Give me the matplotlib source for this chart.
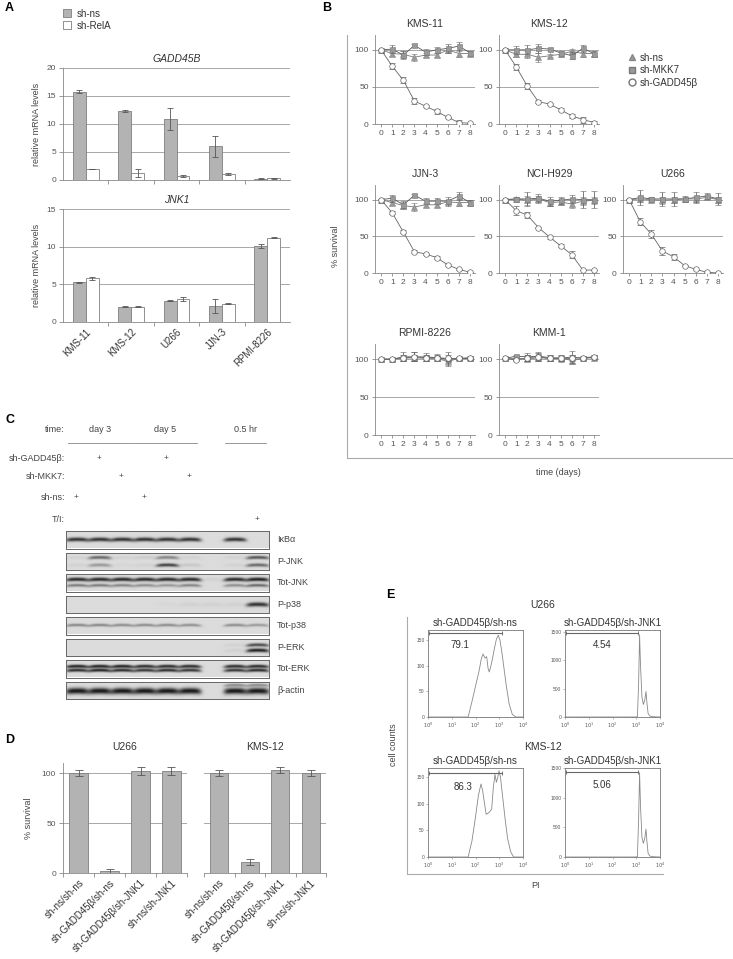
import numpy as np
import matplotlib
matplotlib.use('Agg')
import matplotlib.pyplot as plt
from matplotlib.patches import Patch
from matplotlib.lines import Line2D

plt.rcParams['font.family'] = ['Liberation Sans', 'DejaVu Sans']
plt.rcParams['axes.edgecolor'] = '#888888'
plt.rcParams['xtick.color'] = '#888888'
plt.rcParams['ytick.color'] = '#888888'
plt.rcParams['xtick.labelcolor'] = '#555555'
plt.rcParams['ytick.labelcolor'] = '#555555'

# ---------------- data ----------------
# panel A
lines_a = ['KMS-11', 'KMS-12', 'U266', 'JJN-3', 'RPMI-8226']
gadd_ns = [15.8, 12.3, 10.9, 6.0, 0.25]
gadd_ns_err = [0.2, 0.2, 2.0, 1.9, 0.1]
gadd_rela = [2.0, 1.2, 0.7, 1.1, 0.3]
gadd_rela_err = [0.05, 0.7, 0.15, 0.2, 0.05]
jnk_ns = [5.25, 2.05, 2.85, 2.1, 10.1]
jnk_ns_err = [0.05, 0.03, 0.05, 0.9, 0.3]
jnk_rela = [5.8, 2.05, 3.05, 2.45, 11.2]
jnk_rela_err = [0.2, 0.03, 0.25, 0.02, 0.1]

# panel B
days = [0, 1, 2, 3, 4, 5, 6, 7, 8]
b_lines = ['KMS-11', 'KMS-12', 'JJN-3', 'NCI-H929', 'U266', 'RPMI-8226', 'KMM-1']
b_ns = {
    'KMS-11': [100, 95, 94, 90, 93, 93, 100, 95, 95],
    'KMS-12': [100, 94, 94, 90, 92, 94, 98, 95, 95],
    'JJN-3': [100, 96, 92, 90, 93, 93, 97, 96, 96],
    'NCI-H929': [100, 101, 99, 101, 96, 97, 94, 98, 99],
    'U266': [100, 101, 100, 99, 100, 101, 101, 103, 100],
    'RPMI-8226': [100, 100, 101, 102, 101, 101, 97, 101, 101],
    'KMM-1': [101, 101, 100, 102, 101, 102, 98, 101, 102],
}
b_ns_err = {
    'KMS-11': [1, 3, 5, 5, 3, 3, 3, 5, 3],
    'KMS-12': [1, 3, 5, 6, 2, 3, 3, 5, 3],
    'JJN-3': [1, 3, 5, 6, 3, 3, 3, 5, 3],
    'NCI-H929': [1, 2, 6, 4, 4, 4, 6, 5, 5],
    'U266': [1, 4, 2, 5, 4, 3, 4, 3, 4],
    'RPMI-8226': [1, 1, 3, 4, 3, 3, 5, 2, 2],
    'KMM-1': [1, 2, 3, 4, 3, 3, 5, 2, 2],
}
b_mkk = {
    'KMS-11': [100, 101, 93, 106, 97, 100, 102, 105, 96],
    'KMS-12': [100, 100, 100, 102, 101, 96, 92, 102, 95],
    'JJN-3': [100, 102, 93, 106, 98, 98, 98, 105, 96],
    'NCI-H929': [100, 101, 101, 102, 98, 99, 101, 100, 100],
    'U266': [100, 103, 101, 101, 101, 101, 103, 105, 101],
    'RPMI-8226': [100, 100, 103, 103, 103, 102, 100, 101, 102],
    'KMM-1': [101, 104, 103, 104, 102, 101, 103, 101, 103],
}
b_mkk_err = {
    'KMS-11': [1, 5, 5, 2, 4, 4, 6, 6, 3],
    'KMS-12': [1, 5, 6, 6, 2, 3, 5, 5, 3],
    'JJN-3': [1, 5, 5, 2, 4, 4, 6, 5, 3],
    'NCI-H929': [1, 2, 10, 6, 6, 5, 5, 12, 12],
    'U266': [1, 10, 2, 9, 10, 4, 8, 4, 8],
    'RPMI-8226': [1, 1, 6, 6, 5, 5, 9, 2, 2],
    'KMM-1': [1, 2, 5, 5, 4, 5, 8, 2, 2],
}
b_gadd = {
    'KMS-11': [100, 78, 59, 31, 24, 17, 9, 2, 1],
    'KMS-12': [100, 77, 51, 30, 27, 19, 11, 6, 2],
    'JJN-3': [100, 82, 56, 29, 26, 21, 11, 5, 1],
    'NCI-H929': [100, 85, 79, 62, 49, 37, 25, 4, 4],
    'U266': [100, 70, 53, 30, 22, 10, 5, 1, 0],
    'RPMI-8226': [100, 100, 102, 103, 102, 102, 101, 101, 101],
    'KMM-1': [101, 99, 102, 103, 101, 101, 101, 102, 103],
}
b_gadd_err = {
    'KMS-11': [0, 4, 4, 4, 1, 3, 1, 3, 1],
    'KMS-12': [0, 4, 4, 2, 1, 2, 3, 4, 2],
    'JJN-3': [0, 2, 2, 2, 1, 2, 1, 1, 0],
    'NCI-H929': [0, 6, 4, 1, 2, 2, 5, 0, 0],
    'U266': [0, 5, 5, 5, 4, 1, 1, 1, 0],
    'RPMI-8226': [0, 0, 4, 6, 4, 3, 4, 2, 2],
    'KMM-1': [0, 0, 4, 5, 4, 3, 4, 2, 2],
}

# panel C (western blot band intensities per lane, 9 lanes, lane 7 empty)
blot_labels = ['I\u03baB\u03b1', 'P-JNK', 'Tot-JNK', 'P-p38', 'Tot-p38', 'P-ERK', 'Tot-ERK', '\u03b2-actin']
blot_bands = {
    'I\u03baB\u03b1': [(0.52, 0.075, [0.85, 0.85, 0.85, 0.85, 0.85, 0.85, 0, 0.85, 0])],
    'P-JNK': [(0.30, 0.06, [0.05, 0.6, 0.05, 0.08, 0.45, 0.05, 0, 0.05, 0.7]),
              (0.72, 0.06, [0.05, 0.35, 0.03, 0.05, 0.8, 0.1, 0, 0.05, 0.6])],
    'Tot-JNK': [(0.35, 0.07, [0.9, 0.9, 0.9, 0.9, 0.9, 0.9, 0.05, 0.9, 0.95]),
                (0.68, 0.055, [0.5, 0.5, 0.45, 0.4, 0.35, 0.45, 0, 0.4, 0.6])],
    'P-p38': [(0.52, 0.08, [0, 0, 0, 0, 0.02, 0.05, 0.05, 0.05, 0.85])],
    'Tot-p38': [(0.50, 0.05, [0.45, 0.45, 0.42, 0.42, 0.42, 0.4, 0, 0.42, 0.35])],
    'P-ERK': [(0.38, 0.06, [0, 0, 0, 0, 0, 0, 0, 0.05, 0.75]),
              (0.68, 0.07, [0, 0, 0, 0, 0, 0, 0, 0.05, 0.95])],
    'Tot-ERK': [(0.40, 0.06, [0.95, 0.95, 0.95, 0.9, 0.9, 0.9, 0, 0.9, 0.9]),
                (0.62, 0.06, [0.9, 0.95, 0.9, 0.85, 0.9, 0.85, 0, 0.85, 0.9])],
    '\u03b2-actin': [(0.22, 0.05, [0, 0, 0, 0, 0, 0, 0, 0.4, 0.4]),
                     (0.55, 0.12, [0.95, 0.95, 0.95, 0.95, 0.95, 0.95, 0, 0.95, 0.95])],
}
lane_plus = {
    'sh-GADD45\u03b2:': [1, 4],
    'sh-MKK7:': [2, 5],
    'sh-ns:': [0, 3],
    'T/I:': [8],
}

# panel D
d_groups = ['sh-ns/sh-ns', 'sh-GADD45\u03b2/sh-ns', 'sh-GADD45\u03b2/sh-JNK1', 'sh-ns/sh-JNK1']
d_u266 = [100, 2, 102, 102]
d_u266_err = [3, 2.5, 4, 4]
d_kms12 = [100, 11, 103, 100]
d_kms12_err = [3, 3, 3, 3]

# panel E (log10 PI, counts)
e_u266_ns_x = [0, 1.5, 1.69, 1.85, 2.0, 2.15, 2.25, 2.32, 2.4, 2.47, 2.53, 2.58, 2.65, 2.72, 2.8, 2.88,
               2.96, 3.03, 3.1, 3.2, 3.3, 3.42, 3.55, 3.7, 4.0]
e_u266_ns_y = [0, 0, 0, 30, 60, 90, 115, 123, 115, 118, 95, 88, 100, 115, 135, 152, 160, 150, 130, 95,
               60, 25, 5, 0, 0]
e_u266_jnk_x = [0, 2.95, 3.05, 3.1, 3.14, 3.18, 3.24, 3.3, 3.36, 3.41, 3.45, 3.5, 3.58, 3.7, 4.0]
e_u266_jnk_y = [0, 0, 5, 600, 1450, 900, 350, 220, 300, 450, 250, 60, 15, 5, 0]
e_kms_ns_x = [0, 1.5, 1.69, 1.85, 2.0, 2.12, 2.23, 2.3, 2.38, 2.45, 2.52, 2.6, 2.68, 2.75, 2.82, 2.88,
              2.94, 2.99, 3.05, 3.15, 3.25, 3.35, 3.48, 3.6, 4.0]
e_kms_ns_y = [0, 0, 0, 30, 75, 115, 137, 125, 100, 80, 82, 85, 90, 130, 155, 140, 150, 162, 150, 110,
              70, 35, 10, 0, 0]
e_kms_jnk_x = [0, 2.95, 3.05, 3.1, 3.14, 3.18, 3.24, 3.3, 3.36, 3.41, 3.45, 3.5, 3.58, 3.7, 4.0]
e_kms_jnk_y = [0, 0, 5, 650, 1420, 850, 330, 230, 320, 470, 260, 60, 15, 5, 0]
e_gate_pct = ['79.1', '4.54', '86.3', '5.06']

# ---------------- figure ----------------
W, H = 733, 959
fig = plt.figure(figsize=(W / 100, H / 100), dpi=100)


def ax_px(l, t, r, b):
    return fig.add_axes([l / W, 1 - b / H, (r - l) / W, (b - t) / H])


def fx(x):
    return x / W


def fy(y):
    return 1 - y / H


DARK = '#333333'
GRAYBAR = '#b3b3b3'
EDGE = '#7f7f7f'

# ---------------- panel A ----------------
fig.text(fx(5), fy(8), 'A', fontsize=9, fontweight='bold', va='center')
fig.legend([Patch(facecolor=GRAYBAR, edgecolor=EDGE, lw=0.6), Patch(facecolor='white', edgecolor=EDGE, lw=0.6)],
           ['sh-ns', 'sh-RelA'], loc='upper left', bbox_to_anchor=(fx(54), fy(0)), frameon=False,
           fontsize=7, handlelength=0.9, handleheight=0.9, handletextpad=0.5, labelspacing=0.2,
           labelcolor=DARK)


def panel_a(ax, ns, ns_err, rela, rela_err, ymax, title):
    x = np.arange(len(lines_a))
    w = 0.285
    ax.bar(x - w / 2, ns, w, yerr=ns_err, color=GRAYBAR, edgecolor=EDGE, lw=0.6,
           error_kw=dict(ecolor='#555555', elinewidth=0.6, capsize=2.5, capthick=0.6), zorder=3)
    ax.bar(x + w / 2, rela, w, yerr=rela_err, color='white', edgecolor=EDGE, lw=0.6,
           error_kw=dict(ecolor='#555555', elinewidth=0.6, capsize=2.5, capthick=0.6), zorder=3)
    ax.set_xlim(-0.5, len(lines_a) - 0.5)
    ax.set_ylim(0, ymax)
    ax.set_yticks(np.arange(0, ymax + 1, 5))
    ax.yaxis.grid(True, color='#999999', lw=0.6)
    ax.set_axisbelow(True)
    for s in ['top', 'right']:
        ax.spines[s].set_visible(False)
    ax.spines['left'].set_linewidth(0.6)
    ax.spines['bottom'].set_linewidth(0.6)
    ax.set_xticks(x)
    ax.set_xticks(np.arange(0.5, len(lines_a) - 0.5, 1), minor=True)
    ax.tick_params(axis='x', which='major', length=0)
    ax.tick_params(axis='x', which='minor', length=3, width=0.6)
    ax.tick_params(axis='y', length=3, width=0.6, labelsize=6, pad=2)
    ax.set_ylabel('relative mRNA levels', fontsize=6.5, color='#444444', labelpad=4)
    ax.set_title(title, fontsize=7.5, style='italic', color=DARK, pad=4)


ax = ax_px(63, 68, 290, 180)
panel_a(ax, gadd_ns, gadd_ns_err, gadd_rela, gadd_rela_err, 20, 'GADD45B')
ax.set_xticklabels([])
ax = ax_px(63, 209, 290, 322)
panel_a(ax, jnk_ns, jnk_ns_err, jnk_rela, jnk_rela_err, 15, 'JNK1')
ax.set_xticklabels(lines_a, rotation=45, ha='right', rotation_mode='anchor', fontsize=7, color=DARK)

# ---------------- panel B ----------------
fig.text(fx(322), fy(8), 'B', fontsize=9, fontweight='bold', va='center')
fig.add_artist(Line2D([fx(347), fx(347), fx(733)], [fy(35), fy(458), fy(458)], color='#aaaaaa', lw=0.8))
fig.text(fx(336), fy(246), '% survival', rotation=90, fontsize=6.5, color='#444444', ha='center', va='center')
fig.text(fx(558), fy(472), 'time (days)', fontsize=6.5, color='#444444', ha='center', va='center')

cols = [375, 499, 623]
rows = [(35, 124), (185, 273), (344, 435)]
pos = [(0, 0), (0, 1), (1, 0), (1, 1), (1, 2), (2, 0), (2, 1)]
for name, (r, c) in zip(b_lines, pos):
    t, b = rows[r]
    ax = ax_px(cols[c], t, cols[c] + 100, b)
    ekw = dict(elinewidth=0.6, capsize=2.5, capthick=0.6)
    ax.errorbar(days, b_ns[name], yerr=b_ns_err[name], color='#777777', ecolor='#777777', lw=0.6,
                marker='^', ms=4, mfc='#999999', mec='#888888', mew=0.4, zorder=3, **ekw)
    ax.errorbar(days, b_mkk[name], yerr=b_mkk_err[name], color='#555555', ecolor='#666666', lw=0.6,
                marker='s', ms=3.6, mfc='#999999', mec='#777777', mew=0.4, zorder=4, **ekw)
    ax.errorbar(days, b_gadd[name], yerr=b_gadd_err[name], color='#666666', ecolor='#666666', lw=0.6,
                marker='o', ms=4, mfc='white', mec='#666666', mew=0.5, zorder=5, **ekw)
    ax.set_xlim(-0.55, 8.45)
    ax.set_ylim(0, 120)
    ax.set_yticks([0, 50, 100])
    ax.set_xticks(days)
    ax.axhline(50, color='#999999', lw=0.6, zorder=1)
    ax.axhline(100, color='#999999', lw=0.6, zorder=1)
    for s in ['top', 'right']:
        ax.spines[s].set_visible(False)
    ax.spines['left'].set_linewidth(0.6)
    ax.spines['bottom'].set_linewidth(0.6)
    ax.tick_params(length=2.5, width=0.6, labelsize=6, pad=2)
    ax.set_title(name, fontsize=7.5, color=DARK, pad=6)

leg_h = [Line2D([], [], ls='none', marker='^', ms=5, mfc='#999999', mec='#888888'),
         Line2D([], [], ls='none', marker='s', ms=5, mfc='#999999', mec='#777777'),
         Line2D([], [], ls='none', marker='o', ms=5, mfc='white', mec='#777777')]
fig.legend(leg_h, ['sh-ns', 'sh-MKK7', 'sh-GADD45\u03b2'], loc='upper left',
           bbox_to_anchor=(fx(619), fy(44)), frameon=False, fontsize=7, handlelength=0.8,
           handletextpad=0.4, labelspacing=0.25, labelcolor=DARK)

# ---------------- panel C ----------------
fig.text(fx(5), fy(420), 'C', fontsize=9, fontweight='bold', va='center')
fig.text(fx(65), fy(430), 'time:', fontsize=6.5, color='#444444', ha='right', va='center')
for lab, xc, x0, x1 in [('day 3', 100, 68, 132), ('day 5', 165, 133, 197), ('0.5 hr', 245, 225, 266)]:
    fig.text(fx(xc), fy(430), lab, fontsize=6.5, color='#444444', ha='center', va='center')
    fig.add_artist(Line2D([fx(x0), fx(x1)], [fy(443), fy(443)], color='#888888', lw=0.6))

blot_l, blot_r = 66, 269
lane_w = (blot_r - blot_l) / 9
for (lab, lanes), yy in zip(lane_plus.items(), [458, 477, 497, 519]):
    fig.text(fx(65), fy(yy), lab, fontsize=6.5, color='#444444', ha='right', va='center')
    for ln in lanes:
        fig.text(fx(blot_l + lane_w * (ln + 0.45)), fy(yy), '+', fontsize=6, color='#444444',
                 ha='center', va='center')

strip_top = 531
nx, ny = 360, 48
xs = (np.arange(nx) + 0.5) / nx * 9
ys = (np.arange(ny) + 0.5) / ny
for i, lab in enumerate(blot_labels):
    t = strip_top + i * 21.5
    b = t + 17.5
    ax = ax_px(blot_l, t, blot_r, b)
    img = np.full((ny, nx), 0.86)
    for (p, sig, inten) in blot_bands[lab]:
        for ln, v in enumerate(inten):
            if v <= 0:
                continue
            xc = (xs - ln - 0.5) / 0.5
            prof_x = np.exp(-np.abs(xc) ** 5)
            # bands droop slightly at lane edges
            prof_y = np.exp(-0.5 * ((ys[:, None] - p - 0.04 * xc ** 2) / sig) ** 2)
            img -= 0.82 * v * prof_y * prof_x[None, :]
    img = np.clip(img, 0.08, 1)
    ax.imshow(img, cmap='gray', vmin=0, vmax=1, extent=(0, 9, 1, 0), aspect='auto', interpolation='bicubic')
    ax.set_xticks([])
    ax.set_yticks([])
    for s in ax.spines.values():
        s.set_color('#666666')
        s.set_linewidth(0.7)
    fig.text(fx(277), fy((t + b) / 2), lab, fontsize=6.5, color='#444444', va='center')

# ---------------- panel D ----------------
fig.text(fx(5), fy(740), 'D', fontsize=9, fontweight='bold', va='center')


def panel_d(ax, vals, errs, title, show_y):
    x = np.arange(len(d_groups))
    ax.bar(x, vals, 0.6, yerr=errs, color=GRAYBAR, edgecolor=EDGE, lw=0.6, zorder=3,
           error_kw=dict(ecolor='#555555', elinewidth=0.6, capsize=3, capthick=0.6))
    ax.set_xlim(-0.5, len(d_groups) - 0.5)
    ax.set_ylim(0, 110)
    ax.set_yticks([0, 50, 100])
    ax.yaxis.grid(True, color='#999999', lw=0.6)
    ax.set_axisbelow(True)
    for s in ['top', 'right']:
        ax.spines[s].set_visible(False)
    ax.spines['bottom'].set_linewidth(0.6)
    ax.spines['left'].set_linewidth(0.6)
    ax.set_xticks(x)
    ax.set_xticks(np.arange(-0.5, len(d_groups), 1), minor=True)
    ax.tick_params(axis='x', which='major', length=0)
    ax.tick_params(axis='x', which='minor', length=3, width=0.6)
    ax.tick_params(axis='y', length=3, width=0.6, labelsize=6, pad=2)
    ax.set_xticklabels(d_groups, rotation=45, ha='right', rotation_mode='anchor', fontsize=7, color=DARK)
    if show_y:
        ax.set_ylabel('% survival', fontsize=6.5, color='#444444', labelpad=6)
    else:
        ax.spines['left'].set_visible(False)
        ax.tick_params(axis='y', left=False, labelleft=False)
    ax.set_title(title, fontsize=7.5, color=DARK, pad=9)


ax = ax_px(63, 763, 187, 873)
panel_d(ax, d_u266, d_u266_err, 'U266', True)
ax = ax_px(204, 763, 326, 873)
panel_d(ax, d_kms12, d_kms12_err, 'KMS-12', False)

# ---------------- panel E ----------------
fig.text(fx(386), fy(595), 'E', fontsize=9, fontweight='bold', va='center')
fig.add_artist(Line2D([fx(407), fx(407), fx(663)], [fy(617), fy(874), fy(874)], color='#aaaaaa', lw=0.8))
fig.text(fx(393), fy(745), 'cell counts', rotation=90, fontsize=6.5, color='#444444', ha='center', va='center')
fig.text(fx(535), fy(885), 'PI', fontsize=6.5, color='#444444', ha='center', va='center')
fig.text(fx(543), fy(605), 'U266', fontsize=7.5, color=DARK, ha='center', va='center')
fig.text(fx(543), fy(747), 'KMS-12', fontsize=7.5, color=DARK, ha='center', va='center')

e_sets = [
    (428, 523, 630, 717, e_u266_ns_x, e_u266_ns_y, 170, [0, 50, 100, 150], 164, 3.1, 1.34, 140, 'sh-GADD45\u03b2/sh-ns'),
    (565, 660, 630, 717, e_u266_jnk_x, e_u266_jnk_y, 1535, [0, 500, 1000, 1500], 1482, 3.08, 1.55, 1267, 'sh-GADD45\u03b2/sh-JNK1'),
    (428, 523, 768, 857, e_kms_ns_x, e_kms_ns_y, 167, [0, 50, 100, 150], 158, 3.1, 1.48, 132, 'sh-GADD45\u03b2/sh-ns'),
    (565, 660, 768, 857, e_kms_jnk_x, e_kms_jnk_y, 1500, [0, 500, 1000, 1500], 1430, 3.08, 1.55, 1210, 'sh-GADD45\u03b2/sh-JNK1'),
]
for (l, r, t, b, hx, hy, ymax, yt, gy, gx, lx, ly, sub), pct in zip(e_sets, e_gate_pct):
    ax = ax_px(l, t, r, b)
    ax.plot(10 ** np.array(hx), hy, color='#888888', lw=0.6)
    ax.set_xscale('log')
    ax.set_xlim(1, 1e4)
    ax.set_ylim(0, ymax)
    ax.set_yticks(yt)
    ax.set_xticks([1, 10, 100, 1000, 10000])
    ax.set_xticklabels(['$10^0$', '$10^1$', '$10^2$', '$10^3$', '$10^4$'])
    ax.tick_params(labelsize=3.5, length=1.5, width=0.4, pad=1)
    ax.tick_params(which='minor', length=1, width=0.3)
    for s in ax.spines.values():
        s.set_color('#777777')
        s.set_linewidth(0.6)
    ax.plot([1.05, 10 ** gx], [gy, gy], color='#666666', lw=0.8, marker='|', ms=3, mew=0.6)
    ax.text(10 ** lx, ly, pct, fontsize=7, color=DARK, ha='center', va='center')
    ax.set_title(sub, fontsize=7, color=DARK, pad=3)

fig.savefig('out.png', dpi=100)
